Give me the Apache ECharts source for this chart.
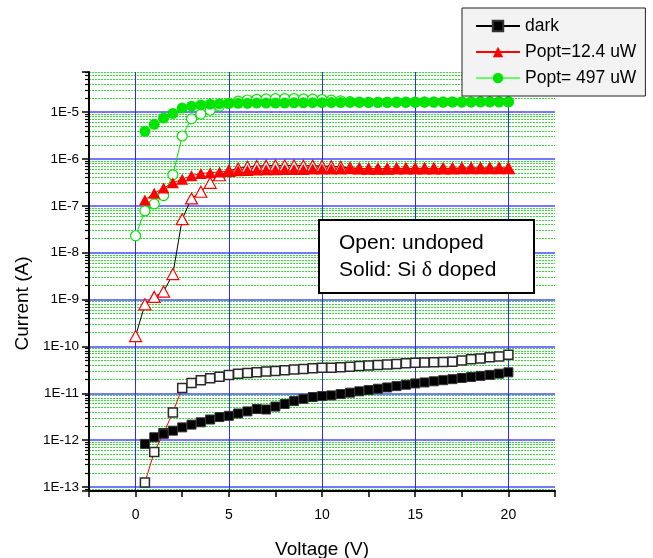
<!DOCTYPE html>
<html><head><meta charset="utf-8">
<script src="https://cdn.jsdelivr.net/npm/echarts@6/dist/echarts.min.js"></script>
<style>html,body{margin:0;padding:0;background:#fff}#c{width:653px;height:558px}</style>
</head><body><div id="c"></div>
<script>
// ---- data ----
const voltage = [0,0.5,1,1.5,2,2.5,3,3.5,4,4.5,5,5.5,6,6.5,7,7.5,8,8.5,9,9.5,10,10.5,11,11.5,12,12.5,13,13.5,14,14.5,15,15.5,16,16.5,17,17.5,18,18.5,19,19.5,20];

const darkDoped = [null,8.3e-13,1.15e-12,1.37e-12,1.59e-12,1.87e-12,2.14e-12,2.4e-12,2.75e-12,3.1e-12,3.3e-12,3.7e-12,4.1e-12,4.6e-12,4.5e-12,5.2e-12,5.9e-12,6.8e-12,7.6e-12,8.3e-12,8.7e-12,9.0e-12,9.6e-12,1.03e-11,1.1e-11,1.17e-11,1.25e-11,1.33e-11,1.42e-11,1.52e-11,1.62e-11,1.7e-11,1.8e-11,1.9e-11,2.0e-11,2.12e-11,2.22e-11,2.35e-11,2.47e-11,2.62e-11,2.8e-11];
const darkUndoped = [null,1.25e-13,5.6e-13,1.4e-12,3.9e-12,1.29e-11,1.65e-11,1.9e-11,2.1e-11,2.25e-11,2.45e-11,2.6e-11,2.7e-11,2.8e-11,2.9e-11,3.0e-11,3.1e-11,3.2e-11,3.3e-11,3.4e-11,3.5e-11,3.5e-11,3.6e-11,3.7e-11,3.8e-11,3.9e-11,4.0e-11,4.1e-11,4.2e-11,4.35e-11,4.5e-11,4.55e-11,4.6e-11,4.65e-11,4.7e-11,5.0e-11,5.3e-11,5.5e-11,5.9e-11,6.1e-11,6.6e-11];
const redDoped = [null,1.34e-7,1.86e-7,2.4e-7,3.1e-7,3.7e-7,4.4e-7,4.9e-7,5.1e-7,5.3e-7,5.5e-7,5.6e-7,5.7e-7,5.8e-7,5.9e-7,5.9e-7,6.0e-7,6.0e-7,6.0e-7,6.1e-7,6.1e-7,6.1e-7,6.1e-7,6.2e-7,6.2e-7,6.2e-7,6.2e-7,6.2e-7,6.3e-7,6.3e-7,6.3e-7,6.3e-7,6.3e-7,6.3e-7,6.3e-7,6.4e-7,6.4e-7,6.4e-7,6.4e-7,6.4e-7,6.4e-7];
const redUndoped = [1.66e-10,7.9e-10,1.14e-9,1.48e-9,3.5e-9,5.2e-8,1.44e-7,2.0e-7,3.1e-7,4.5e-7,5.6e-7,6.3e-7,6.8e-7,7.1e-7,7.2e-7,7.3e-7,7.3e-7,7.3e-7,7.2e-7,7.2e-7,7.1e-7,7.0e-7,6.8e-7,6.5e-7,6.3e-7,6.2e-7,6.2e-7,6.2e-7,6.3e-7,6.3e-7,6.3e-7,6.3e-7,6.3e-7,6.3e-7,6.3e-7,6.4e-7,6.4e-7,6.4e-7,6.4e-7,6.4e-7,6.4e-7];
const greenDoped = [null,3.9e-6,5.5e-6,7.5e-6,9.4e-6,1.22e-5,1.34e-5,1.43e-5,1.48e-5,1.52e-5,1.54e-5,1.55e-5,1.55e-5,1.56e-5,1.56e-5,1.57e-5,1.57e-5,1.58e-5,1.58e-5,1.59e-5,1.59e-5,1.6e-5,1.6e-5,1.61e-5,1.61e-5,1.62e-5,1.62e-5,1.62e-5,1.63e-5,1.63e-5,1.63e-5,1.64e-5,1.64e-5,1.64e-5,1.65e-5,1.65e-5,1.65e-5,1.66e-5,1.66e-5,1.66e-5,1.66e-5];
const greenUndoped = [2.3e-8,7.8e-8,1.1e-7,1.66e-7,4.6e-7,3.1e-6,7.2e-6,9.1e-6,1.1e-5,1.35e-5,1.55e-5,1.72e-5,1.82e-5,1.88e-5,1.92e-5,1.94e-5,1.95e-5,1.95e-5,1.93e-5,1.9e-5,1.86e-5,1.8e-5,1.74e-5,1.68e-5,1.64e-5,1.62e-5,1.62e-5,1.62e-5,1.63e-5,1.63e-5,1.63e-5,1.64e-5,1.64e-5,1.64e-5,1.65e-5,1.65e-5,1.65e-5,1.66e-5,1.66e-5,1.66e-5,1.66e-5];

const legendNames = ['dark', 'Popt=12.4 uW', 'Popt= 497 uW'];
const boxLines = ['Open: undoped', 'Solid: Si ', '\u03b4', ' doped'];
const xName = 'Voltage (V)';
const yName = 'Current (A)';

// ---- build ----
function pairs(vals) {
  const out = [];
  vals.forEach((v, i) => { if (v != null) out.push([voltage[i], v]); });
  return out;
}
const FONT = "'Liberation Sans', Arial, sans-serif";
const GREEN = '#00e400';
const RED = '#ff0000';

const chart = echarts.init(document.getElementById('c'), null, {renderer: 'canvas'});
chart.setOption({
  animation: false,
  backgroundColor: '#ffffff',
  grid: {left: 89, right: 98, top: 72, bottom: 67, containLabel: false, outerBoundsMode: 'none'},
  xAxis: {
    type: 'value', min: -2.5, max: 22.5, interval: 2.5,
    name: xName, nameLocation: 'middle', nameGap: 49,
    nameTextStyle: {fontFamily: FONT, fontSize: 19, color: '#000'},
    axisLine: {show: true, onZero: false, lineStyle: {color: '#000', width: 2}},
    axisTick: {show: true, inside: false, length: 6, lineStyle: {color: '#000', width: 1.5}},
    axisLabel: {fontFamily: FONT, fontSize: 14, color: '#000', margin: 17,
      formatter: v => (Math.abs(v % 5) < 1e-9 ? String(v) : '')},
    splitLine: {show: true, lineStyle: {color: ['rgba(0,0,0,0)', '#2b2bff'], width: 1}}
  },
  yAxis: {
    type: 'log', logBase: 10, min: 8.2e-14, max: 7.2e-5,
    name: yName, nameLocation: 'middle', nameGap: 52,
    nameTextStyle: {fontFamily: FONT, fontSize: 19, color: '#000', padding: [0, 44, 0, 0]},
    axisLine: {show: true, onZero: false, lineStyle: {color: '#000', width: 2}},
    axisTick: {show: true, inside: false, length: 7, lineStyle: {color: '#000', width: 1.5}},
    minorTick: {show: true, splitNumber: 9, length: 4, lineStyle: {color: '#000', width: 1.2}},
    axisLabel: {fontFamily: FONT, fontSize: 13.5, color: '#000', margin: 10,
      showMinLabel: false, showMaxLabel: false,
      formatter: v => '1E' + Math.round(Math.log10(v))},
    splitLine: {show: true, showMinLine: false, showMaxLine: false,
      lineStyle: {color: '#4a4aff', width: 1.6}},
    minorSplitLine: {show: true, lineStyle: {color: '#3ae03a', width: 1, type: [2, 1]}}
  },
  legend: {
    data: legendNames, orient: 'vertical', left: 462, top: 8,
    padding: [9, 9, 9, 13], itemGap: 8, itemWidth: 44, itemHeight: 13,
    backgroundColor: '#f3f3f3', borderColor: '#222', borderWidth: 1,
    textStyle: {fontFamily: FONT, fontSize: 17.5, color: '#000', lineHeight: 18}
  },
  series: [
    {name: 'dark (undoped)', type: 'line', data: pairs(darkUndoped),
      symbol: 'rect', symbolSize: 9, showSymbol: true,
      itemStyle: {color: '#fbfbfb', borderColor: '#2a2a2a', borderWidth: 1.5},
      lineStyle: {color: RED, width: 1}},
    {name: 'Popt=12.4 uW (undoped)', type: 'line', data: pairs(redUndoped),
      symbol: 'triangle', symbolSize: [12, 11], showSymbol: true,
      itemStyle: {color: '#ffffff', borderColor: RED, borderWidth: 1.2},
      lineStyle: {color: '#000', width: 1}},
    {name: 'Popt= 497 uW (undoped)', type: 'line', data: pairs(greenUndoped),
      symbol: 'circle', symbolSize: 10, showSymbol: true,
      itemStyle: {color: '#ffffff', borderColor: GREEN, borderWidth: 1.2},
      lineStyle: {color: GREEN, width: 1}},
    {name: legendNames[0], type: 'line', data: pairs(darkDoped),
      symbol: 'rect', symbolSize: 9, showSymbol: true,
      itemStyle: {color: '#000', borderColor: '#333', borderWidth: 1},
      lineStyle: {color: '#000', width: 1}},
    {name: legendNames[1], type: 'line', data: pairs(redDoped),
      symbol: 'triangle', symbolSize: [12, 11], showSymbol: true,
      itemStyle: {color: RED},
      lineStyle: {color: RED, width: 1}},
    {name: legendNames[2], type: 'line', data: pairs(greenDoped),
      symbol: 'circle', symbolSize: 11, showSymbol: true,
      itemStyle: {color: GREEN},
      lineStyle: {color: '#66ff66', width: 1}}
  ],
  graphic: [
    {type: 'rect', left: 318, top: 219, z: 100,
      shape: {width: 215, height: 73},
      style: {fill: '#fff', stroke: '#000', lineWidth: 2}},
    {type: 'text', left: 339, top: 233, z: 101,
      style: {text: boxLines[0], fontFamily: FONT, fontSize: 21, fill: '#000'}},
    {type: 'text', left: 339, top: 259, z: 101,
      style: {text: '{a|' + boxLines[1] + '}{d|' + boxLines[2] + '}{a|' + boxLines[3] + '}',
        rich: {a: {fontFamily: FONT, fontSize: 21, fill: '#000', color: '#000'},
               d: {fontFamily: "'Liberation Serif', 'DejaVu Serif', serif", fontSize: 22, color: '#000'}}}}
  ]
});
</script></body></html>
